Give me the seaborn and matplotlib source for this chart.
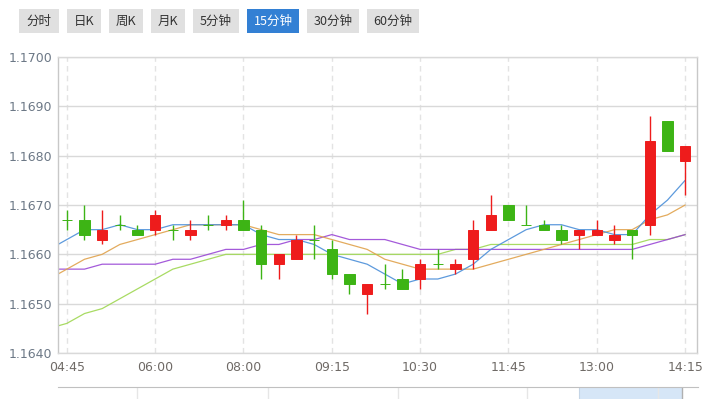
import numpy as np
import pandas as pd
import matplotlib
matplotlib.use("Agg")
import matplotlib.pyplot as plt
from matplotlib.patches import Rectangle
import seaborn as sns

# 15-minute candles
opens = [1.1667, 1.1667, 1.1663, 1.1666, 1.1665, 1.1665, 1.1665, 1.1664, 1.1666, 1.1666,
         1.1667, 1.1665, 1.1658, 1.1659, 1.1663, 1.1661, 1.1656, 1.1652, 1.1654, 1.1655,
         1.1655, 1.1658, 1.1657, 1.1659, 1.1665, 1.1670, 1.1666, 1.1666, 1.1665, 1.1664,
         1.1664, 1.1663, 1.1665, 1.1666, 1.1687, 1.1679]
highs = [1.1669, 1.1670, 1.1669, 1.1668, 1.1666, 1.1669, 1.1666, 1.1667, 1.1668, 1.1668,
         1.1671, 1.1666, 1.1660, 1.1664, 1.1666, 1.1663, 1.1656, 1.1654, 1.1658, 1.1657,
         1.1659, 1.1661, 1.1659, 1.1667, 1.1672, 1.1670, 1.1670, 1.1667, 1.1666, 1.1665,
         1.1667, 1.1666, 1.1665, 1.1688, 1.1687, 1.1682]
lows = [1.1665, 1.1663, 1.1662, 1.1665, 1.1664, 1.1664, 1.1663, 1.1663, 1.1665, 1.1665,
        1.1665, 1.1655, 1.1655, 1.1659, 1.1659, 1.1655, 1.1652, 1.1648, 1.1653, 1.1653,
        1.1653, 1.1657, 1.1656, 1.1657, 1.1665, 1.1667, 1.1666, 1.1665, 1.1662, 1.1661,
        1.1664, 1.1662, 1.1659, 1.1664, 1.1681, 1.1672]
closes = [1.1667, 1.1664, 1.1665, 1.1666, 1.1664, 1.1668, 1.1665, 1.1665, 1.1666, 1.1667,
          1.1665, 1.1658, 1.1660, 1.1663, 1.1663, 1.1656, 1.1654, 1.1654, 1.1654, 1.1653,
          1.1658, 1.1658, 1.1658, 1.1665, 1.1668, 1.1667, 1.1666, 1.1665, 1.1663, 1.1665,
          1.1665, 1.1664, 1.1664, 1.1683, 1.1681, 1.1682]

# moving averages, first value belongs to the bar just before the visible window
ma_blue = [1.1661, 1.1663, 1.1665, 1.1665, 1.1666, 1.1665, 1.1665, 1.1666, 1.1666, 1.1666,
           1.1666, 1.1666, 1.1664, 1.1663, 1.1663, 1.1662, 1.1660, 1.1659, 1.1658, 1.1656,
           1.1654, 1.1655, 1.1655, 1.1656, 1.1658, 1.1661, 1.1663, 1.1665, 1.1666, 1.1666,
           1.1665, 1.1665, 1.1664, 1.1664, 1.1668, 1.1671, 1.1675]
ma_orange = [1.1655, 1.1657, 1.1659, 1.1660, 1.1662, 1.1663, 1.1664, 1.1665, 1.1666, 1.1666,
             1.1666, 1.1666, 1.1665, 1.1664, 1.1664, 1.1664, 1.1663, 1.1662, 1.1661, 1.1659,
             1.1658, 1.1657, 1.1657, 1.1657, 1.1657, 1.1658, 1.1659, 1.1660, 1.1661, 1.1662,
             1.1663, 1.1664, 1.1665, 1.1665, 1.1667, 1.1668, 1.1670]
ma_purple = [1.1657, 1.1657, 1.1657, 1.1658, 1.1658, 1.1658, 1.1658, 1.1659, 1.1659, 1.1660,
             1.1661, 1.1661, 1.1662, 1.1662, 1.1663, 1.1663, 1.1664, 1.1663, 1.1663, 1.1663,
             1.1662, 1.1661, 1.1661, 1.1661, 1.1661, 1.1661, 1.1661, 1.1661, 1.1661, 1.1661,
             1.1661, 1.1661, 1.1661, 1.1661, 1.1662, 1.1663, 1.1664]
ma_green = [1.1645, 1.1646, 1.1648, 1.1649, 1.1651, 1.1653, 1.1655, 1.1657, 1.1658, 1.1659,
            1.1660, 1.1660, 1.1660, 1.1660, 1.1660, 1.1660, 1.1660, 1.1660, 1.1660, 1.1660,
            1.1660, 1.1660, 1.1660, 1.1661, 1.1661, 1.1662, 1.1662, 1.1662, 1.1662, 1.1662,
            1.1662, 1.1662, 1.1662, 1.1662, 1.1663, 1.1663, 1.1664]

time_labels = ["04:45", "06:00", "08:00", "09:15", "10:30", "11:45", "13:00", "14:15"]
y_ticks = [1.1640, 1.1650, 1.1660, 1.1670, 1.1680, 1.1690, 1.1700]
buttons = ["分时", "日K", "周K", "月K", "5分钟", "15分钟", "30分钟", "60分钟"]
active_button = "15分钟"

RED = "#ee1c1c"
GREEN = "#3db415"

df = pd.DataFrame({"open": opens, "high": highs, "low": lows, "close": closes})
df["x"] = np.arange(len(df))
df["color"] = np.where(df["close"] > df["open"], RED, GREEN)

sns.set_style("white")
plt.rcParams["font.family"] = ["Noto Sans CJK SC", "DejaVu Sans"]

W, H = 705, 399
fig = plt.figure(figsize=(W / 100, H / 100), dpi=100)
ax = fig.add_axes([58 / W, 46 / H, 639 / W, 296 / H])

# moving average lines (behind the candles)
ma_x = np.arange(-1, len(df))
for vals, col in [(ma_green, "#9fd752"), (ma_purple, "#9a48d6"),
                  (ma_orange, "#e0a24c"), (ma_blue, "#4b8fd9")]:
    sns.lineplot(x=ma_x, y=vals, color=col, lw=0.9, alpha=0.9, ax=ax, zorder=2)

# candles
ax.vlines(df["x"], df["low"], df["high"], colors=df["color"], lw=1.0, zorder=3)
ax.bar(df["x"], (df["close"] - df["open"]).abs(), bottom=df[["open", "close"]].min(axis=1),
       width=0.58, color=df["color"], edgecolor=df["color"], lw=0.7, zorder=4)

ax.set_xlim(-0.5, 35.67)
ax.set_ylim(1.1640, 1.1700)
ax.set_yticks(y_ticks)
ax.set_yticklabels([f"{v:.4f}" for v in y_ticks], family="DejaVu Sans")
ax.set_xticks(np.arange(0, len(df), 5))
ax.set_xticklabels(time_labels, family="DejaVu Sans")
ax.tick_params(axis="y", length=0, pad=4, labelsize=9, labelcolor="#6c7886")
ax.tick_params(axis="x", length=0, pad=6, labelsize=9, labelcolor="#6f6a66")
ax.set_xlabel("")
ax.set_ylabel("")

ax.yaxis.grid(True, color="#d9d9d9", lw=1)
ax.xaxis.grid(True, color="#e3e3e3", lw=1, linestyle=(0, (4, 3)))
ax.set_axisbelow(True)
for side in ["left", "right"]:
    ax.spines[side].set_color("#c8c8c8")
    ax.spines[side].set_linewidth(1)
for side in ["top", "bottom"]:
    ax.spines[side].set_color("#d9d9d9")
    ax.spines[side].set_linewidth(1)

# navigator strip at the bottom
nav = fig.add_axes([58 / W, 0, 640 / W, 12 / H])
nav.set_xlim(0, 640)
nav.set_ylim(0, 1)
nav.axvspan(521, 624, color="#d6e6f7", lw=0)
for xv in [79, 210, 340, 469, 600]:
    nav.axvline(xv, color="#e6e6e6", lw=1)
nav.axvline(521, color="#c5d5e6", lw=0.8)
nav.axvline(624, color="#b0b0b0", lw=1)
nav.set_xticks([])
nav.set_yticks([])
for side in ["left", "right", "bottom"]:
    nav.spines[side].set_visible(False)
nav.spines["top"].set_color("#c0c0c0")
nav.patch.set_alpha(0)

# period buttons
widths = [40, 34, 34, 34, 46, 52, 52, 52]
bx = 19
for label, bw in zip(buttons, widths):
    active = label == active_button
    fig.patches.append(Rectangle((bx / W, 1 - 33 / H), bw / W, 24 / H,
                                 transform=fig.transFigure, figure=fig,
                                 facecolor="#3380d4" if active else "#e0e0e0", lw=0))
    fig.text((bx + bw / 2) / W, 1 - 21 / H, label, ha="center", va="center",
             fontsize=9, color="white" if active else "#333333")
    bx += bw + 8

fig.savefig("out.png", dpi=100)
